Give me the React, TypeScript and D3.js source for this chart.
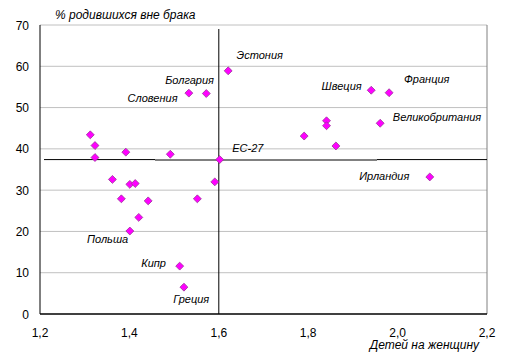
import React from "react";
import * as d3 from "d3";

// Total fertility rate (children per woman)
const fertility = [
  1.3125, 1.323, 1.323, 1.392, 1.4915, 1.362, 1.401, 1.413, 1.591, 1.382,
  1.442, 1.552, 1.421, 1.401, 1.5125, 1.522, 1.621, 1.533, 1.572, 1.941,
  1.981, 1.841, 1.841, 1.961, 1.791, 1.862, 2.072, 1.602,
];
// % of births outside marriage
const outOfWedlock = [
  43.4, 40.8, 37.9, 39.2, 38.7, 32.6, 31.4, 31.6, 32.0, 27.9,
  27.4, 27.9, 23.4, 20.1, 11.6, 6.5, 58.9, 53.5, 53.4, 54.2,
  53.6, 46.8, 45.6, 46.2, 43.1, 40.7, 33.2, 37.4,
];
// Labelled points: index into the arrays above, label text
const labelIndex = [16, 18, 17, 27, 19, 20, 23, 26, 13, 14, 15];
const labelText = [
  "Эстония", "Болгария", "Словения", "ЕС-27", "Швеция", "Франция",
  "Великобритания", "Ирландия", "Польша", "Кипр", "Греция",
];
const labelAnchor = ["start", "end", "end", "start", "end", "start", "start", "end", "end", "end", "start"];
const labelDx = [8.4, 7.7, -11.3, 12.6, -9.6, 15, 12.7, -20.4, -1.7, -13.7, -10.7];
const labelDy = [-11.4, -9.7, 8.7, -7.3, -0.3, -9.4, -2.6, 3, 12.3, 0.7, 15.4];

const xTicks = [1.2, 1.4, 1.6, 1.8, 2.0, 2.2];
const yTicks = [0, 10, 20, 30, 40, 50, 60, 70];
const euX = 1.6;
const euY = 37.4;

const yTitle = "% родившихся вне брака";
const xTitle = "Детей на женщину";

const W = 512;
const H = 360;
const left = 40;
const right = 487;
const top = 25;
const bottom = 314;

export default function App() {
  const x = d3.scaleLinear().domain([1.2, 2.2]).range([left, right]);
  const y = d3.scaleLinear().domain([0, 70]).range([bottom, top]);
  const font = "'Liberation Sans', Arial, sans-serif";
  const fmt = (v: number) => d3.format(".1f")(v).replace(".", ",");
  const diamond = d3.symbol().type(d3.symbolDiamond2).size(40)()!;

  return (
    <svg
      width={W}
      height={H}
      style={{ position: "absolute", left: 0, top: 0, background: "#fff" }}
      fontFamily={font}
    >
      <rect x={0} y={0} width={W} height={H} fill="#fff" />
      {/* gridlines */}
      {yTicks.filter((t) => t > 0).map((t) => (
        <line key={t} x1={left} x2={right} y1={y(t)} y2={y(t)} stroke="#c0c0c0" strokeWidth={1} />
      ))}
      {/* right border */}
      <line x1={right} x2={right} y1={top} y2={bottom} stroke="#808080" strokeWidth={1} />
      {/* axes */}
      <line x1={left} x2={left} y1={top} y2={bottom} stroke="#000" strokeWidth={1} />
      <line x1={left} x2={right} y1={bottom} y2={bottom} stroke="#000" strokeWidth={1.5} />
      {/* EU reference lines */}
      <line x1={x(euX)} x2={x(euX)} y1={29} y2={bottom} stroke="#000" strokeWidth={1} />
      <line x1={44} x2={right} y1={y(euY)} y2={y(euY)} stroke="#000" strokeWidth={1} />
      <line x1={155} x2={377} y1={y(euY) + 0.5} y2={y(euY) + 0.5} stroke="#808080" strokeWidth={2} />
      {/* y tick labels */}
      {yTicks.map((t) => (
        <text key={t} x={29} y={y(t) + 4.5} textAnchor="end" fontSize={12} fill="#000">
          {t}
        </text>
      ))}
      {/* x tick labels */}
      {xTicks.map((t) => (
        <text key={t} x={x(t)} y={337} textAnchor="middle" fontSize={12} fill="#000">
          {fmt(t)}
        </text>
      ))}
      {/* points */}
      {fertility.map((f, i) => (
        <path
          key={i}
          d={diamond}
          transform={`translate(${x(f)},${y(outOfWedlock[i])})`}
          fill="#ff00ff"
          stroke="#993399"
          strokeWidth={0.8}
        />
      ))}
      {/* labels */}
      {labelIndex.map((idx, k) => (
        <text
          key={k}
          x={x(fertility[idx]) + labelDx[k]}
          y={y(outOfWedlock[idx]) + labelDy[k]}
          textAnchor={labelAnchor[k] as any}
          fontSize={11}
          fontStyle="italic"
          fill="#000"
        >
          {labelText[k]}
        </text>
      ))}
      {/* titles */}
      <text x={55} y={18.5} fontSize={12} fontStyle="italic" fill="#000">
        {yTitle}
      </text>
      <text x={479} y={348.5} textAnchor="end" fontSize={12} fontStyle="italic" fill="#000">
        {xTitle}
      </text>
    </svg>
  );
}
